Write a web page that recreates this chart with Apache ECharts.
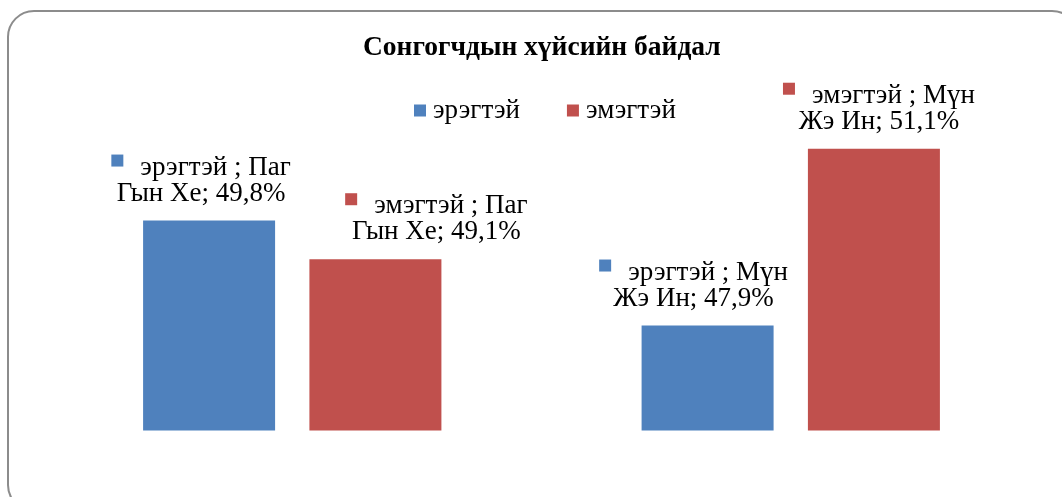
<!DOCTYPE html>
<html>
<head>
<meta charset="utf-8">
<title>Сонгогчдын хүйсийн байдал</title>
<script src="https://cdn.jsdelivr.net/npm/echarts@6/dist/echarts.min.js"></script>
<style>
  html, body { margin: 0; padding: 0; background: #fff; }
  #main { width: 1062px; height: 497px; }
</style>
</head>
<body>
<div id="main"></div>
<script>
// candidates (category axis)
const categories = ["Паг Гын Хе", "Мүн Жэ Ин"];
// share of voters by gender, %
const maleValues = [49.8, 47.9];
const femaleValues = [49.1, 51.1];
const seriesNames = ["эрэгтэй", "эмэгтэй"];
const colors = ["#4F81BD", "#C0504D"];
// label offsets, Excel puts them a bit off-centre
const maleOffsets = [[-8, 0], [-14, 0]];
const femaleOffsets = [[61, 0], [5, 0]];

const FONT = '"Liberation Serif", "Times New Roman", serif';

const chartDom = document.getElementById("main");
const myChart = echarts.init(chartDom);

// "эрэгтэй ; Паг\nГын Хе; 49,8%"
const labelText = function (params) {
  const cat = params.name;
  const i = cat.indexOf(" ");
  const first = cat.slice(0, i);
  const rest = cat.slice(i + 1);
  const val = params.value.toFixed(1).replace(".", ",");
  return "{sq" + params.seriesIndex + "|}{g|}" + params.seriesName + " ; " + first + "\n" + rest + "; " + val + "%";
};

const makeData = function (values, offsets) {
  return values.map(function (v, i) {
    return { value: v, label: { offset: offsets[i] } };
  });
};

const labelStyle = {
  show: true,
  position: "top",
  distance: 14,
  formatter: labelText,
  color: "#000",
  fontFamily: FONT,
  fontSize: 27,
  lineHeight: 26,
  rich: {
    sq0: { width: 12, height: 12, backgroundColor: colors[0], verticalAlign: "top" },
    sq1: { width: 12, height: 12, backgroundColor: colors[1], verticalAlign: "top" },
    g: { width: 17 }
  }
};

const option = {
  animation: false,
  title: {
    text: "Сонгогчдын хүйсийн байдал",
    left: 358,
    top: 29,
    textStyle: {
      fontFamily: FONT,
      fontSize: 27.5,
      fontWeight: "bold",
      color: "#000"
    }
  },
  legend: {
    data: seriesNames,
    left: 414,
    top: 97,
    padding: 0,
    itemWidth: 12,
    itemHeight: 12,
    itemGap: 47,
    icon: "rect",
    textStyle: {
      fontFamily: FONT,
      fontSize: 27,
      color: "#000",
      padding: [7, 0, 0, 2]
    }
  },
  grid: {
    left: 43,
    right: 22,
    top: 99,
    bottom: 66.5
  },
  xAxis: {
    type: "category",
    data: categories,
    axisLine: { show: false },
    axisTick: { show: false },
    axisLabel: { show: false },
    splitLine: { show: false }
  },
  yAxis: {
    type: "value",
    min: 46,
    max: 52,
    interval: 1,
    show: false,
    splitLine: { show: false }
  },
  graphic: [
    {
      type: "rect",
      shape: { x: 8, y: 11, width: 1070, height: 500, r: 26 },
      style: { fill: null, stroke: "#8c8c8c", lineWidth: 2 },
      silent: true,
      z: -1
    }
  ],
  series: [
    {
      name: seriesNames[0],
      type: "bar",
      barWidth: 132,
      barGap: "26%",
      itemStyle: { color: colors[0] },
      label: labelStyle,
      data: makeData(maleValues, maleOffsets)
    },
    {
      name: seriesNames[1],
      type: "bar",
      barWidth: 132,
      barGap: "26%",
      itemStyle: { color: colors[1] },
      label: labelStyle,
      data: makeData(femaleValues, femaleOffsets)
    }
  ]
};

myChart.setOption(option);
</script>
</body>
</html>
